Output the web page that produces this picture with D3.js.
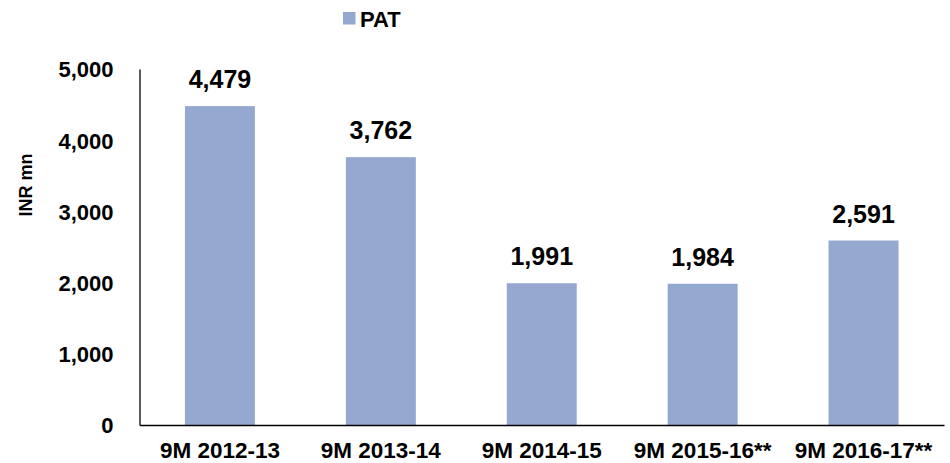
<!DOCTYPE html>
<html>
<head>
<meta charset="utf-8">
<script src="https://cdn.jsdelivr.net/npm/d3@7"></script>
<style>
  body { margin: 0; background: #fff; }
  text { font-family: Arial, "Liberation Sans", sans-serif; font-weight: bold; fill: #000; }
</style>
</head>
<body>
<div id="chart"></div>
<script>
// PAT by period, INR mn
const categories = ['9M 2012-13', '9M 2013-14', '9M 2014-15', '9M 2015-16**', '9M 2016-17**'];
const patValues = [4479, 3762, 1991, 1984, 2591];
const yTicks = [0, 1000, 2000, 3000, 4000, 5000];
const seriesName = 'PAT';

const width = 950, height = 463;
const margin = { top: 69, right: 6, bottom: 38, left: 139.5 };
const barColor = '#95a9d0';

const svg = d3.select('#chart').append('svg')
    .attr('width', width)
    .attr('height', height);

// scales
const x = d3.scaleBand()
    .domain(categories)
    .range([margin.left, width - margin.right])
    .paddingInner(0.565)
    .paddingOuter(0.2825);

const y = d3.scaleLinear()
    .domain([0, 5000])
    .range([height - margin.bottom, margin.top]);

// bars
svg.selectAll('.bar')
    .data(patValues)
    .enter().append('rect')
    .attr('class', 'bar')
    .attr('x', (d, i) => x(categories[i]))
    .attr('y', d => y(d))
    .attr('width', x.bandwidth())
    .attr('height', d => y(0) - y(d))
    .attr('fill', barColor);

// value labels
svg.selectAll('.value')
    .data(patValues)
    .enter().append('text')
    .attr('class', 'value')
    .attr('x', (d, i) => x(categories[i]) + x.bandwidth() / 2)
    .attr('y', d => y(d) - 18)
    .attr('text-anchor', 'middle')
    .attr('font-size', '25px')
    .text(d => d3.format(',')(d));

// y axis
const yAxis = svg.append('g')
    .attr('transform', `translate(${margin.left},0)`)
    .call(d3.axisLeft(y).tickValues(yTicks).tickFormat(d3.format(',')).tickSize(0).tickPadding(26));
yAxis.select('.domain').attr('stroke', '#000').attr('stroke-width', 1.3);
yAxis.selectAll('text')
    .attr('font-size', '22px')
    .attr('font-family', 'Arial, "Liberation Sans", sans-serif')
    .attr('font-weight', 'bold')
    .attr('dy', '0.36em');

// x axis
const xAxis = svg.append('g')
    .attr('transform', `translate(0,${y(0)})`)
    .call(d3.axisBottom(x).tickSize(0).tickPadding(17));
xAxis.select('.domain').attr('stroke', '#000').attr('stroke-width', 1.3);
xAxis.selectAll('text')
    .attr('font-size', '22.5px')
    .attr('font-family', 'Arial, "Liberation Sans", sans-serif')
    .attr('font-weight', 'bold');

// y axis title
svg.append('text')
    .attr('transform', 'translate(32,185) rotate(-90)')
    .attr('text-anchor', 'middle')
    .attr('font-size', '18px')
    .text('INR mn');

// legend
const legend = svg.append('g').attr('transform', 'translate(343,12)');
legend.append('rect')
    .attr('width', 12.5)
    .attr('height', 12.5)
    .attr('fill', barColor);
legend.append('text')
    .attr('x', 17)
    .attr('y', 15)
    .attr('font-size', '22px')
    .text(seriesName);
</script>
</body>
</html>
